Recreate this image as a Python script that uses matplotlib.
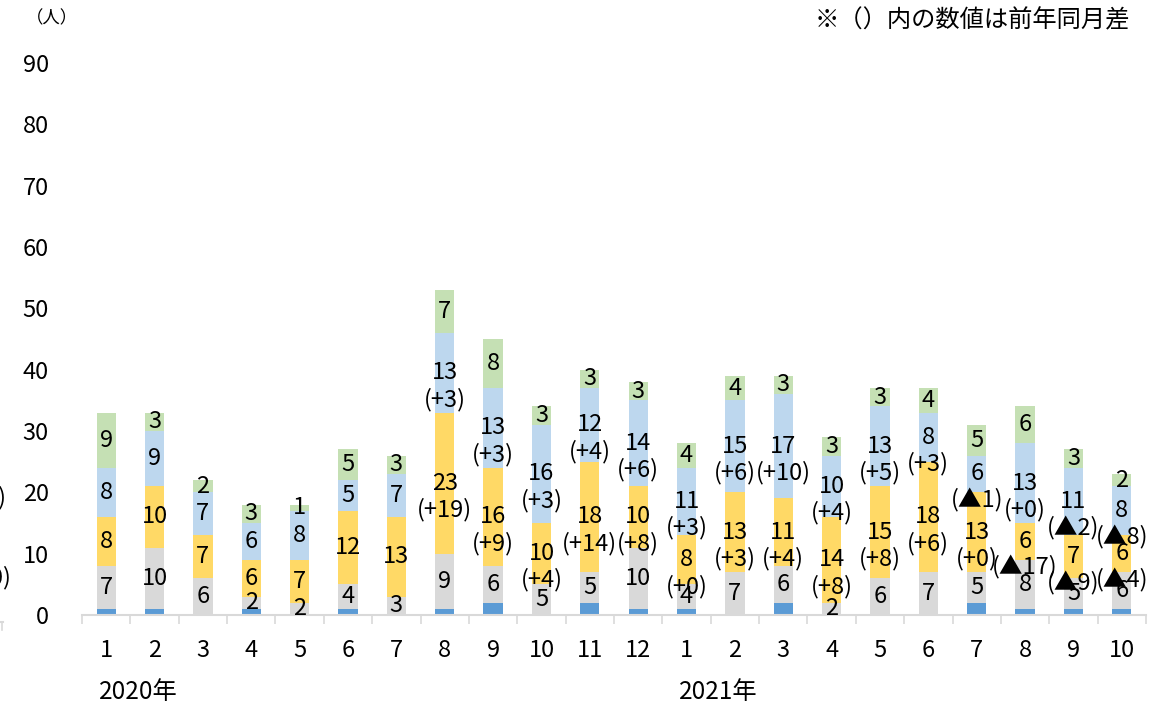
import numpy as np
import matplotlib.pyplot as plt
from matplotlib.lines import Line2D

plt.rcParams['font.family'] = ['Noto Sans CJK JP', 'DejaVu Sans']

# データ（2020年1月～2021年10月）
months = ['1', '2', '3', '4', '5', '6', '7', '8', '9', '10', '11', '12',
          '1', '2', '3', '4', '5', '6', '7', '8', '9', '10']
blue = [1, 1, 0, 1, 0, 1, 0, 1, 2, 0, 2, 1, 1, 0, 2, 0, 0, 0, 2, 1, 1, 1]
gray = [7, 10, 6, 2, 2, 4, 3, 9, 6, 5, 5, 10, 4, 7, 6, 2, 6, 7, 5, 8, 5, 6]
yellow = [8, 10, 7, 6, 7, 12, 13, 23, 16, 10, 18, 10, 8, 13, 11, 14, 15, 18, 13, 6, 7, 6]
lblue = [8, 9, 7, 6, 8, 5, 7, 13, 13, 16, 12, 14, 11, 15, 17, 10, 13, 8, 6, 13, 11, 8]
green = [9, 3, 2, 3, 1, 5, 3, 7, 8, 3, 3, 3, 4, 4, 3, 3, 3, 4, 5, 6, 3, 2]

# 前年同月差
yellow_diff = [None] * 7 + ['+19', '+9', '+4', '+14', '+8', '+0', '+3', '+4', '+8',
                            '+8', '+6', '+0', '▲17', '▲9', '▲4']
lblue_diff = [None] * 7 + ['+3', '+3', '+3', '+4', '+6', '+3', '+6', '+10', '+4',
                           '+5', '+3', '▲1', '+0', '▲2', '▲8']

colors = ['#5B9BD5', '#D9D9D9', '#FFD966', '#BDD7EE', '#C5E0B4']

fig = plt.figure(figsize=(11.58, 7.07), dpi=100)
ax = fig.add_axes([82 / 1158, 1 - 615 / 707, (1146 - 82) / 1158, (615 - 63) / 707])

x = np.arange(len(months))
series = [blue, gray, yellow, lblue, green]
diffs = [None, None, yellow_diff, lblue_diff, None]
bottom = np.zeros(len(months))

for k, vals in enumerate(series):
    vals = np.array(vals, dtype=float)
    ax.bar(x, vals, width=0.4, bottom=bottom, color=colors[k], linewidth=0)
    if k > 0:
        for i in range(len(x)):
            if vals[i] == 0:
                continue
            yc = bottom[i] + vals[i] / 2
            ax.annotate(str(int(vals[i])), (x[i], yc), ha='center', va='center',
                        fontsize=17, color='black')
            if diffs[k] is not None and diffs[k][i] is not None:
                ax.annotate('(' + diffs[k][i] + ')', (x[i], yc), xytext=(0, -19),
                            textcoords='offset points', ha='center', va='center',
                            fontsize=17, color='black')
    bottom += vals

ax.set_ylim(0, 90)
ax.set_xlim(-0.5, len(months) - 0.5)
ax.set_yticks(range(0, 91, 10))
ax.set_xticks(x)
ax.set_xticklabels(months)
ax.set_xticks(np.arange(-0.5, len(months)), minor=True)
ax.tick_params(axis='x', which='major', length=0, pad=17, labelsize=17)
ax.tick_params(axis='x', which='minor', length=6.5, color='#D9D9D9', width=1.2)
ax.tick_params(axis='y', length=0, pad=24, labelsize=17)

for s in ['top', 'right', 'left']:
    ax.spines[s].set_visible(False)
ax.spines['bottom'].set_color('#D9D9D9')
ax.spines['bottom'].set_linewidth(1.5)

# 年ラベル
ax.text(-0.15, -0.14, '2020年', transform=ax.get_xaxis_transform(),
        ha='left', va='center', fontsize=17.5)
ax.text(11.85, -0.14, '2021年', transform=ax.get_xaxis_transform(),
        ha='left', va='center', fontsize=17.5)

fig.text(26 / 1158, 1 - 18 / 707, '（人）', ha='left', va='center', fontsize=12.5)
fig.text(1130 / 1158, 1 - 20 / 707, '※（）内の数値は前年同月差', ha='right',
         va='center', fontsize=17.5)

# 左端で切れた前のグラフの一部
fig.text(7 / 1158, 1 - 498 / 707, '(+3)', ha='right', va='center', fontsize=17)
fig.text(12 / 1158, 1 - 578 / 707, '(+0)', ha='right', va='center', fontsize=17)
fig.add_artist(Line2D([0, 3 / 1158], [1 - 622 / 707, 1 - 622 / 707],
                      color='#D9D9D9', lw=1.5, transform=fig.transFigure))
fig.add_artist(Line2D([2 / 1158, 2 / 1158], [1 - 622 / 707, 1 - 630 / 707],
                      color='#D9D9D9', lw=1.2, transform=fig.transFigure))

fig.savefig('out.png', dpi=100)
